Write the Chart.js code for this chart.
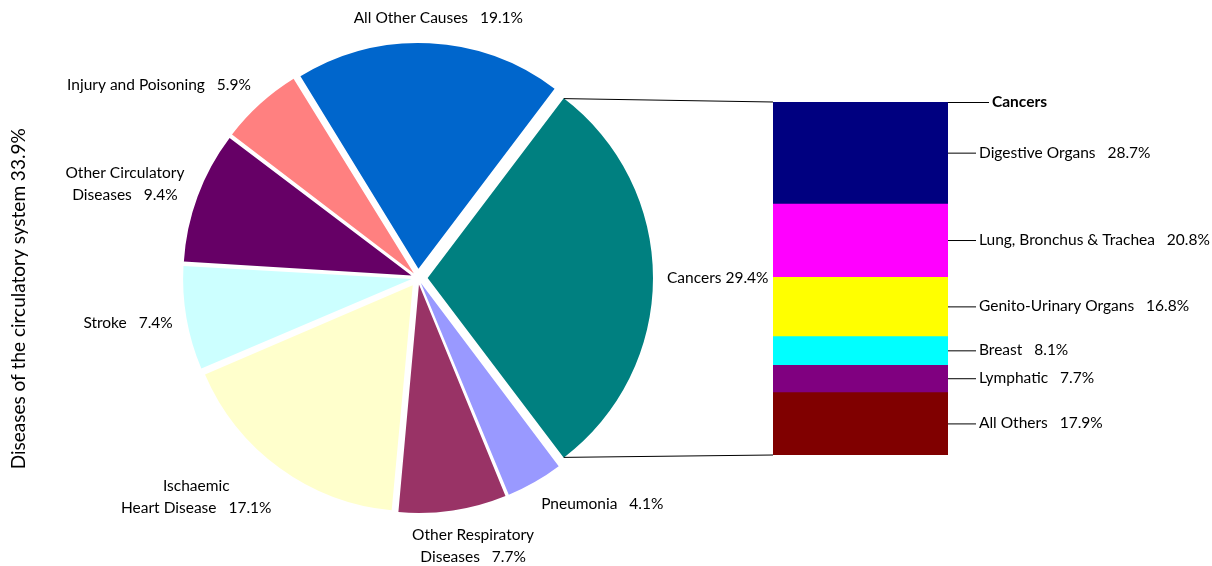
<!DOCTYPE html>
<html>
<head>
<meta charset="utf-8">
<script src="https://cdn.jsdelivr.net/npm/chart.js@4"></script>
<style>
  html, body { margin: 0; padding: 0; background: #fff; }
  #wrap { position: relative; width: 1212px; height: 566px; }
  #wrap canvas { position: absolute; left: 0; top: 0; }
</style>
</head>
<body>
<div id="wrap">
  <canvas id="pie-chart" width="1212" height="566"></canvas>
  <canvas id="bar-chart" width="1212" height="566"></canvas>
</div>
<script>
// causes of death (pie), clockwise from Cancers
const causeLabels = ['Cancers', 'Pneumonia', ['Other Respiratory', 'Diseases'], ['Ischaemic', 'Heart Disease'],
  'Stroke', ['Other Circulatory', 'Diseases'], 'Injury and Poisoning', 'All Other Causes'];
const causeValues = [29.4, 4.1, 7.7, 17.1, 7.4, 9.4, 5.9, 19.1];
const causeColors = ['#008080', '#9999FF', '#993366', '#FFFFCC', '#CCFFFF', '#660066', '#FF8080', '#0066CC'];

// breakdown of cancers (bar), top to bottom
const cancerCategory = ['Cancers'];
const cancerLabels = ['Digestive Organs', 'Lung, Bronchus & Trachea', 'Genito-Urinary Organs', 'Breast', 'Lymphatic', 'All Others'];
const cancerValues = [28.7, 20.8, 16.8, 8.1, 7.7, 17.9];
const cancerColors = ['#000080', '#FF00FF', '#FFFF00', '#00FFFF', '#800080', '#800000'];

const sideTitle = 'Diseases of the circulatory system 33.9%';

const FONT = 'Lato, "Open Sans", sans-serif';
const explode = 10;
const causeTotal = causeValues.reduce((a, b) => a + b, 0);
const cancerTotal = cancerValues.reduce((a, b) => a + b, 0);
const pct = v => v.toFixed(1) + '%';

// every slice pulled out by the same number of pixels
function sliceOffset(ctx) {
  const c = causeValues[ctx.dataIndex] / causeTotal * Math.PI * 2;
  const fix = 1 - Math.sin(Math.min(Math.PI, c));
  return explode * 4 / (1 + fix);
}

const pieLabels = {
  id: 'pieLabels',
  afterDatasetsDraw(chart) {
    const ctx = chart.ctx;
    const meta = chart.getDatasetMeta(0);
    ctx.save();
    ctx.font = '15.5px ' + FONT;
    ctx.fillStyle = '#000';
    ctx.textBaseline = 'middle';
    ctx.textAlign = 'center';
    const lineH = 22;
    meta.data.forEach((arc, i) => {
      const p = arc.getProps(['x', 'y', 'startAngle', 'endAngle', 'outerRadius'], true);
      const mid = (p.startAngle + p.endAngle) / 2;
      const dx = Math.cos(mid), dy = Math.sin(mid);
      const r = p.outerRadius + explode + 14;
      const ax = p.x + dx * r, ay = p.y + dy * r;
      let lines = [].concat(causeLabels[i]);
      const sep = i === 0 ? ' ' : '   ';
      lines[lines.length - 1] = lines[lines.length - 1] + sep + pct(causeValues[i]);
      const w = Math.max(...lines.map(l => ctx.measureText(l).width));
      const h = lines.length * lineH;
      const k = Math.max(-1, Math.min(1, dx * 2));
      const cx = ax + k * w / 2, cy = ay + dy * h / 2;
      lines.forEach((l, j) => {
        ctx.fillText(l, cx, cy - h / 2 + lineH * (j + 0.5));
      });
    });
    ctx.restore();
  },
  afterDraw(chart) {
    const ctx = chart.ctx;
    ctx.save();
    ctx.font = '19px ' + FONT;
    ctx.fillStyle = '#000';
    ctx.textAlign = 'center';
    ctx.textBaseline = 'middle';
    ctx.translate(19, chart.height * 0.528);
    ctx.rotate(-Math.PI / 2);
    ctx.fillText(sideTitle, 0, 0);
    ctx.restore();
  }
};

//원형 차트
const pieChart = new Chart(document.getElementById('pie-chart'), {
  type: 'pie',
  data: {
    labels: causeLabels,
    datasets: [{
      data: causeValues,
      backgroundColor: causeColors,
      borderWidth: 0,
      offset: sliceOffset
    }]
  },
  options: {
    responsive: false,
    animation: false,
    rotation: 90 - causeValues[0] / causeTotal * 180,
    radius: 225,
    layout: { padding: { left: 40, right: 416, top: 0, bottom: 10 } },
    plugins: { legend: { display: false }, tooltip: { enabled: false } }
  },
  plugins: [pieLabels]
});

const barLabels = {
  id: 'barLabels',
  afterDatasetsDraw(chart) {
    const ctx = chart.ctx;
    let left = Infinity, right = -Infinity, top = Infinity, bottom = -Infinity;
    const segs = chart.data.datasets.map((ds, i) => {
      const el = chart.getDatasetMeta(i).data[0];
      const t = Math.min(el.y, el.base), b = Math.max(el.y, el.base);
      left = Math.min(left, el.x - el.width / 2);
      right = Math.max(right, el.x + el.width / 2);
      top = Math.min(top, t);
      bottom = Math.max(bottom, b);
      return { t, b };
    });

    ctx.save();
    ctx.strokeStyle = '#000';
    ctx.lineWidth = 1;
    ctx.fillStyle = '#000';
    ctx.textBaseline = 'middle';
    ctx.textAlign = 'left';

    // connector lines from the Cancers slice to the bar
    const arc = pieChart.getDatasetMeta(0).data[0];
    const p = arc.getProps(['x', 'y', 'startAngle', 'endAngle', 'outerRadius'], true);
    const mid = (p.startAngle + p.endAngle) / 2;
    const ox = p.x + Math.cos(mid) * explode, oy = p.y + Math.sin(mid) * explode;
    const c1 = [ox + Math.cos(p.startAngle) * p.outerRadius, oy + Math.sin(p.startAngle) * p.outerRadius];
    const c2 = [ox + Math.cos(p.endAngle) * p.outerRadius, oy + Math.sin(p.endAngle) * p.outerRadius];
    ctx.beginPath();
    ctx.moveTo(c1[0], c1[1]); ctx.lineTo(left, top);
    ctx.moveTo(c2[0], c2[1]); ctx.lineTo(left, bottom);
    ctx.stroke();

    // series name
    ctx.beginPath();
    ctx.moveTo(right, top + 0.5); ctx.lineTo(right + 41, top + 0.5);
    ctx.stroke();
    ctx.font = 'bold 15.5px ' + FONT;
    ctx.fillText(cancerCategory[0], right + 44, top);

    // segment labels
    ctx.font = '15.5px ' + FONT;
    const lx = right + 31;
    segs.forEach((s, i) => {
      const my = (s.t + s.b) / 2;
      ctx.beginPath();
      ctx.moveTo(right, my + 0.5); ctx.lineTo(lx - 3, my + 0.5);
      ctx.stroke();
      ctx.fillText(cancerLabels[i] + '   ' + pct(cancerValues[i]), lx, my);
    });
    ctx.restore();
  }
};

//막대 차트
const barChart = new Chart(document.getElementById('bar-chart'), {
  type: 'bar',
  data: {
    labels: cancerCategory,
    datasets: cancerLabels.map((l, i) => ({
      label: l,
      data: [cancerValues[i]],
      backgroundColor: cancerColors[i],
      borderWidth: 0,
      barPercentage: 1,
      categoryPercentage: 1
    }))
  },
  options: {
    responsive: false,
    animation: false,
    layout: { padding: { left: 773, right: 264, top: 102, bottom: 111 } },
    scales: {
      x: { display: false, stacked: true },
      y: { display: false, stacked: true, min: 0, max: cancerTotal, reverse: true }
    },
    plugins: { legend: { display: false }, tooltip: { enabled: false } }
  },
  plugins: [barLabels]
});
</script>
</body>
</html>
